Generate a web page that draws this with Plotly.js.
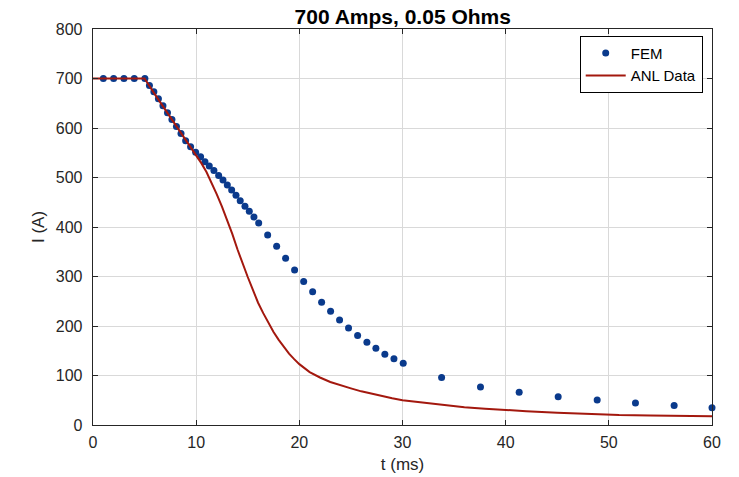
<!DOCTYPE html>
<html>
<head>
<meta charset="utf-8">
<script src="https://cdn.plot.ly/plotly-3.0.1.min.js"></script>
<style>html,body{margin:0;padding:0;background:#fff;}#chart{width:739px;height:477px;}</style>
</head>
<body>
<div id="chart"></div>
<script>
// FEM simulation points
const femT = [1, 2, 3, 4, 5.03, 5.47, 5.9, 6.34, 6.78, 7.22, 7.65, 8.09, 8.53, 8.98, 9.46, 9.95, 10.43, 10.85, 11.27, 11.72, 12.18, 12.6, 13.02, 13.44, 13.86, 14.27, 14.73, 15.15, 15.6, 16.06, 16.93, 17.8, 18.67, 19.54, 20.42, 21.29, 22.16, 23.03, 23.9, 24.77, 25.65, 26.55, 27.42, 28.29, 29.17, 30.07, 33.79, 37.56, 41.31, 45.09, 48.87, 52.58, 56.33, 60];
const femI = [700, 700, 700, 700, 700, 686, 673, 659, 645, 631, 617, 603, 589, 574, 562, 551, 542, 532, 523, 514, 504, 495, 485, 475, 464, 453, 442, 432, 420, 408, 384, 361, 337, 313, 290, 269, 248, 230, 212, 196, 181, 167, 155, 143, 134, 125, 96, 77, 66, 57, 50.5, 44.5, 39.5, 35];
// ANL data curve
const anlT = [0, 5, 6, 7, 8, 9, 10, 10.5, 11, 11.5, 12, 12.5, 13, 13.5, 14, 14.5, 15, 15.5, 16, 16.5, 17, 17.5, 18, 18.5, 19, 19.5, 20, 21, 22, 23, 24, 25, 26, 27, 28, 29, 30, 32, 34, 36, 38, 40, 42, 45, 48, 51, 54, 57, 60];
const anlI = [700, 700, 668, 637, 606, 575, 545, 529, 511, 489, 466, 441, 414, 386, 355, 326, 299, 273, 247, 226, 206, 188, 172, 157, 144, 133, 123, 107, 96, 87, 80, 74, 68, 63, 58, 54, 50, 45, 40, 36, 33, 30, 28, 25, 22, 20, 19, 18, 17.5];
const xTicks = [0, 10, 20, 30, 40, 50, 60];
const yTicks = [0, 100, 200, 300, 400, 500, 600, 700, 800];

const fam = '"Liberation Sans", Arial, sans-serif';
const fnt = {family: fam, size: 16, color: '#262626'};
const axisCommon = {
  showline: true, linecolor: '#262626', linewidth: 1.3, mirror: 'ticks',
  ticks: 'inside', ticklen: 5, tickcolor: '#262626', tickwidth: 1,
  showgrid: true, gridcolor: '#d9d9d9', gridwidth: 1, zeroline: false,
  tickfont: fnt
};
const traces = [
  {x: femT, y: femI, type: 'scatter', mode: 'markers', name: 'FEM',
   marker: {color: '#0a3a8c', size: 7}, cliponaxis: false},
  {x: anlT, y: anlI, type: 'scatter', mode: 'lines', name: 'ANL Data',
   line: {color: '#a3180e', width: 2}}
];
const layout = {
  width: 739, height: 477,
  margin: {l: 93, r: 27, t: 29, b: 52},
  paper_bgcolor: '#fff', plot_bgcolor: '#fff',
  title: {text: '<b>700 Amps, 0.05 Ohms</b>', font: {family: fam, size: 21, color: '#000'}, x: 0.545, xanchor: 'center', y: 0.966, yanchor: 'middle'},
  xaxis: Object.assign({}, axisCommon, {range: [0, 60], tickvals: xTicks, ticklabelstandoff: 2,
    title: {text: 't (ms)', font: {family: fam, size: 17, color: '#262626'}, standoff: 8}}),
  yaxis: Object.assign({}, axisCommon, {range: [0, 800], tickvals: yTicks, ticklabelstandoff: 6,
    title: {text: 'I (A)', font: {family: fam, size: 17, color: '#262626'}, standoff: 6}}),
  legend: {x: 0.985, y: 0.983, xanchor: 'right', yanchor: 'top', bordercolor: '#000', borderwidth: 1, bgcolor: '#fff',
           font: {family: fam, size: 15, color: '#000'}, tracegroupgap: 0, itemwidth: 40},
  showlegend: true
};
Plotly.newPlot('chart', traces, layout, {displayModeBar: false, staticPlot: true});
</script>
</body>
</html>
